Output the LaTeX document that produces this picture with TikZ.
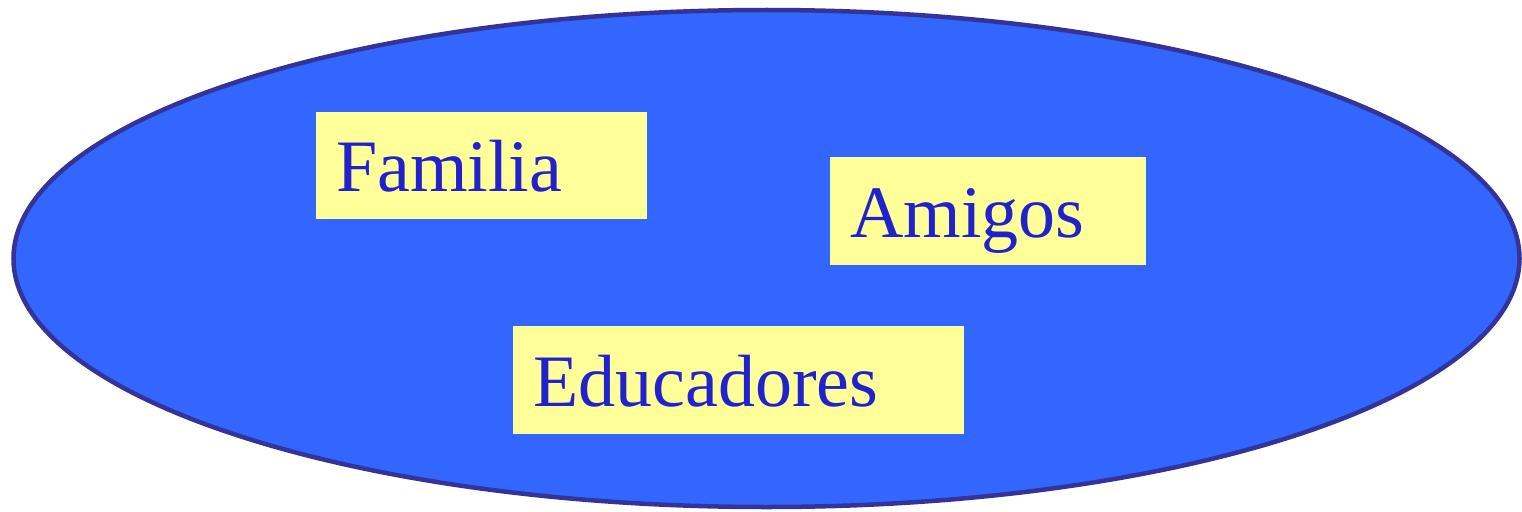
\documentclass[tikz,border=0pt]{standalone}
\usepackage{fontspec}
\setmainfont{Liberation Serif}
\usetikzlibrary{shapes.geometric}
\definecolor{ellfill}{HTML}{3366FF}
\definecolor{ellline}{HTML}{333399}
\definecolor{boxfill}{HTML}{FFFF99}
\definecolor{txt}{HTML}{2222CC}
\begin{document}
\begin{tikzpicture}[x=1pt,y=-1pt,
  label box/.style={rectangle, fill=boxfill, draw=none, anchor=north west,
    inner xsep=20pt, inner ysep=0pt, align=left,
    font=\rmfamily\fontsize{74}{80}\selectfont, text=txt,
    text height=52pt, text depth=0pt}]
\useasboundingbox (0,0) rectangle (1522,511);
\node[ellipse, fill=ellfill, draw=ellline, line width=4.5pt,
  minimum width=1506pt, minimum height=497pt, inner sep=0pt] (world) at (766.5,258.5) {};
\node[label box, minimum width=331pt, minimum height=107pt, text width=291pt] (familia) at (316,112) {Familia};
\node[label box, minimum width=316pt, minimum height=108pt, text width=276pt] (amigos) at (830,157) {Amigos};
\node[label box, minimum width=451pt, minimum height=108pt, text width=411pt] (educadores) at (513,326) {Educadores};
\end{tikzpicture}
\end{document}
